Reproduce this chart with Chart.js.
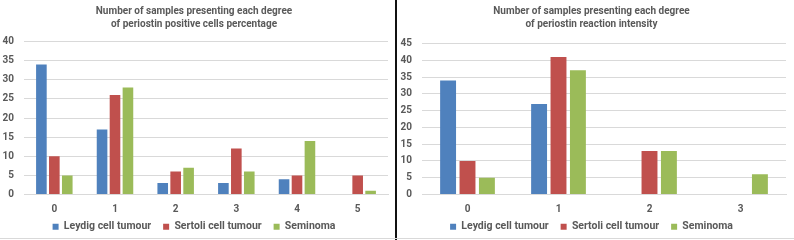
<!DOCTYPE html>
<html><head><meta charset="utf-8">
<script src="https://cdn.jsdelivr.net/npm/chart.js@4"></script>
<style>
html,body{margin:0;padding:0;background:#fff;}
#wrap{position:relative;width:794px;height:240px;overflow:hidden;}
#c1{position:absolute;left:0;top:0;}
#c2{position:absolute;left:397px;top:0;}
#vline{position:absolute;left:395px;top:0;width:2px;height:240px;background:#111;}
#hline{position:absolute;left:0;top:238px;width:794px;height:1px;background:#d9d9d9;}
</style></head>
<body>
<div id="wrap">
<canvas id="c1" width="395" height="240"></canvas>
<canvas id="c2" width="397" height="240"></canvas>
<div id="vline"></div>
<div id="hline"></div>
</div>
<script>
const seriesNames = ['Leydig cell tumour','Sertoli cell tumour','Seminoma'];
const seriesColors = ['#4F81BD','#C0504D','#9BBB59'];

const categoriesLeft = ['0','1','2','3','4','5'];
const leydigLeft = [34,17,3,3,4,0];
const sertoliLeft = [10,26,6,12,5,5];
const seminomaLeft = [5,28,7,6,14,1];
const titleLeft = ['Number of samples presenting each degree','of periostin positive cells percentage'];

const categoriesRight = ['0','1','2','3'];
const leydigRight = [34,27,0,0];
const sertoliRight = [10,41,13,0];
const seminomaRight = [5,37,13,6];
const titleRight = ['Number of samples presenting each degree','of periostin reaction intensity'];

const FONT = 'Roboto';
const TXT = '#595959';

// let x-axis labels draw outside the (compact) axis box
const noLabelClip = {
  id:'noLabelClip',
  beforeDraw(chart){ if (chart.scales.x) chart.scales.x._computeLabelArea = () => undefined; }
};

function makeChart(id, cats, series, title, yMax, yWidth, pad, titleBottom){
  return new Chart(document.getElementById(id), {
    type:'bar',
    data:{
      labels:cats,
      datasets: series.map((d,i)=>({
        label:seriesNames[i], data:d, backgroundColor:seriesColors[i],
        borderWidth:0, categoryPercentage:0.64, barPercentage:0.82
      }))
    },
    plugins:[noLabelClip],
    options:{
      responsive:false, animation:false, devicePixelRatio:1,
      layout:{padding:pad},
      plugins:{
        title:{display:true, text:title, color:TXT,
          font:{family:FONT, size:10, weight:'bold', lineHeight:1.3},
          padding:{top:5, bottom:titleBottom}},
        legend:{position:'bottom',
          labels:{boxWidth:6, boxHeight:6, color:TXT, padding:12,
            font:{family:FONT, size:10.5, weight:'bold'}}},
        tooltip:{enabled:false}
      },
      scales:{
        x:{
          grid:{display:false, drawTicks:false},
          border:{display:true, color:'#d9d9d9'},
          ticks:{color:TXT, padding:9, font:{family:FONT, size:10, weight:'bold'}},
          afterFit:(s)=>{s.height=15;}
        },
        y:{
          min:0, max:yMax,
          grid:{color:'#d9d9d9', drawTicks:false},
          border:{display:false},
          ticks:{stepSize:5, color:TXT, padding:10, font:{family:FONT, size:10, weight:'bold'}},
          afterFit:(s)=>{s.width=yWidth;}
        }
      }
    }
  });
}

makeChart('c1', categoriesLeft, [leydigLeft,sertoliLeft,seminomaLeft], titleLeft, 40, 24, {left:0,right:7,top:0,bottom:-2}, 10.5);
makeChart('c2', categoriesRight, [leydigRight,sertoliRight,seminomaRight], titleRight, 45, 25, {left:0,right:8,top:0,bottom:-2}, 12.5);
</script>
</body></html>
